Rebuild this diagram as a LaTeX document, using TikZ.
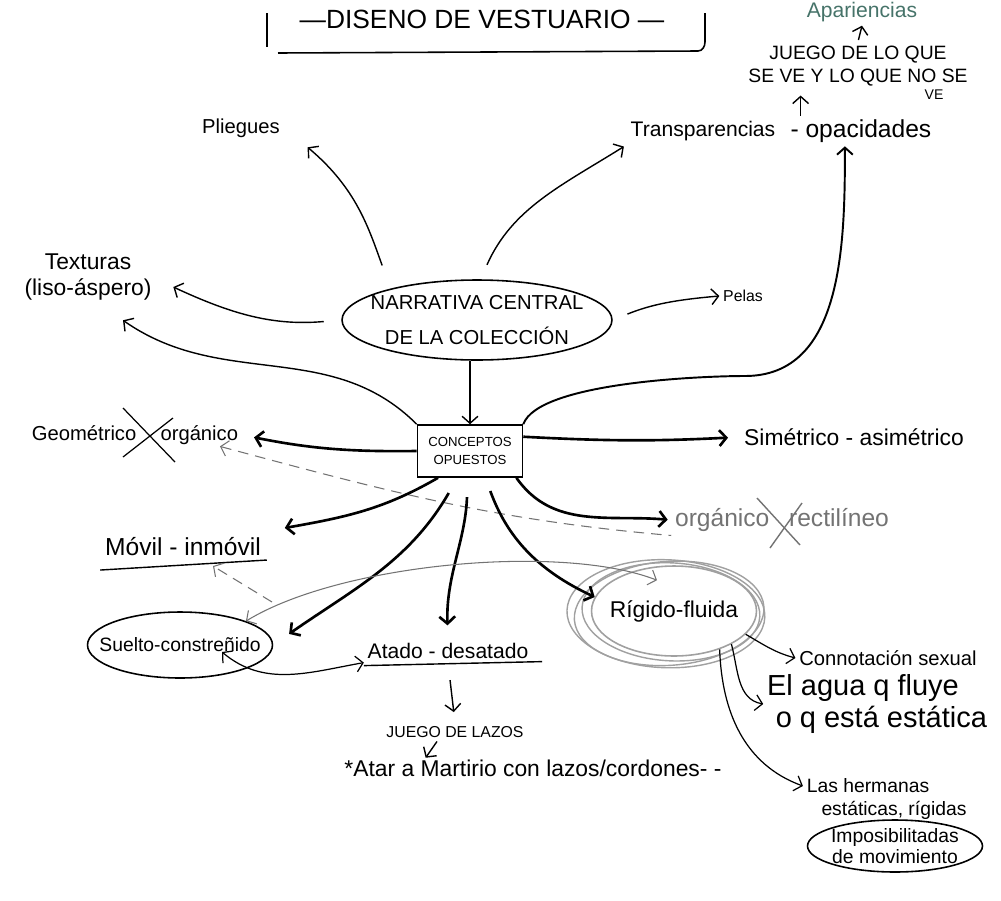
\documentclass[tikz,border=0pt]{standalone}
\usepackage{fontspec}
\setmainfont{Liberation Sans}
\usepackage{tikz}
\usetikzlibrary{shapes.geometric, arrows.meta, positioning, calc}

\definecolor{graphite}{RGB}{115,115,115}
\definecolor{paleink}{RGB}{160,160,160}
\definecolor{tealink}{RGB}{70,115,105}

\begin{document}
\begin{tikzpicture}[
    x = 0.02cm, y = -0.02cm,
    >={Straight Barb[length=4pt, width=9pt]},
    lbl/.style = {inner sep=2pt, align=center},
    oval/.style = {ellipse, draw, line width=0.9pt, align=center, inner xsep=-20pt, inner ysep=-4pt},
    box/.style = {rectangle, draw, line width=0.9pt, align=center, minimum width=2.1cm, minimum height=1.04cm, inner sep=2pt, font=\fontsize{7.5}{10}\selectfont},
    arrow/.style = {draw, ->, line width=0.8pt},
    bold/.style = {arrow, line width=1.5pt},
    pencil/.style = {draw=graphite, line width=0.6pt},
    dashline/.style = {pencil, dash pattern=on 6pt off 4pt},
    ring/.style = {draw=paleink, line width=0.8pt}
]

\useasboundingbox (0,0) rectangle (1001,900);

% Title
\node (title) at (482,19) [lbl, font=\fontsize{15}{16}\selectfont] {—DISENO DE VESTUARIO —};
\draw [line width=0.9pt] (267,13) -- (267,47);
\draw [line width=0.9pt] (278,53) -- (698,51) to[out=0, in=-90] (705,42) -- (705,13);

% Top right
\node (apar) at (862,12) [lbl, text=tealink, font=\fontsize{12}{14}\selectfont] {Apariencias};
\node (juego) at (858,66) [lbl, font=\fontsize{11}{13.5}\selectfont] {JUEGO DE LO QUE\\SE VE Y LO QUE NO SE};
\node (ve) at (934,95) [lbl, font=\fontsize{8}{9}\selectfont] {VE};
\node (transp) at (703,131) [lbl, font=\fontsize{12}{14}\selectfont] {Transparencias};
\node (opac) [lbl, right=0.15cm of transp, font=\fontsize{14}{16}\selectfont] {- opacidades};

% Top left
\node (pliegues) at (241,128) [lbl, font=\fontsize{11.5}{13}\selectfont] {Pliegues};
\node (text) at (88,277) [lbl, font=\fontsize{13}{15}\selectfont] {Texturas\\(liso-áspero)};

% Centre
\node (narr) at (477,320) [oval, minimum width=5.4cm, minimum height=1.6cm, font=\fontsize{11.5}{20}\selectfont] {NARRATIVA CENTRAL\\DE LA COLECCIÓN};
\node (pelas) at (743,296) [lbl, font=\fontsize{9}{10}\selectfont] {Pelas};
\node (conc) at (470,451) [box] {CONCEPTOS\\OPUESTOS};

% Opposites
\node (geom) at (135,435) [lbl, font=\fontsize{11.5}{13}\selectfont] {Geométrico\hspace{1.2em}orgánico};
\node (sime) at (854,437) [lbl, font=\fontsize{13}{15}\selectfont] {Simétrico - asimétrico};
\node (organ) at (782,520) [lbl, text=graphite, font=\fontsize{14}{16}\selectfont] {orgánico\hspace{0.8em}rectilíneo};
\node (movil) at (183,547) [lbl, font=\fontsize{14}{16}\selectfont] {Móvil - inmóvil};
\node (suelto) at (180,645) [oval, minimum width=3.7cm, minimum height=1.32cm, font=\fontsize{11}{13}\selectfont] {Suelto-constreñido};
\node (atado) at (448,651) [lbl, font=\fontsize{12}{14}\selectfont] {Atado - desatado};
\node (lazos) at (455,732) [lbl, font=\fontsize{9}{11}\selectfont] {JUEGO DE LAZOS};
\node (atar) at (533,768) [lbl, font=\fontsize{13}{15}\selectfont] {*Atar a Martirio con lazos/cordones- -};
\node (rigido) at (674,611) [oval, draw=paleink, minimum width=3.3cm, minimum height=1.8cm, font=\fontsize{13}{15}\selectfont] {Rígido-fluida};
\node (connot) at (888,658) [lbl, font=\fontsize{11.5}{13}\selectfont] {Connotación sexual};
\node (agua) at (877,704) [lbl, align=left, font=\fontsize{16.5}{18}\selectfont] {El agua q fluye\\\hspace{0.3em}o q está estática};
\node (herm) at (868,786) [lbl, font=\fontsize{11}{13}\selectfont] {Las hermanas};
\node (est) at (894,810) [lbl, font=\fontsize{11}{13}\selectfont] {estáticas, rígidas};
\node (impos) at (895,846) [oval, minimum width=3.5cm, minimum height=1.04cm, font=\fontsize{11}{12}\selectfont] {Imposibilitadas\\de movimiento};

% Underlines and crossings
\draw [line width=0.8pt] ($(movil.south west)+(-1,10)$) -- ($(movil.south east)+(2,0)$);
\draw [line width=0.8pt] ($(atado.south west)+(0,3)$) -- ($(atado.south east)+(10,-1)$);
\draw [line width=0.7pt] ($(geom)+(-12,-27)$) -- ($(geom)+(40,27)$);
\draw [line width=0.7pt] ($(geom)+(38,-17)$) -- ($(geom)+(-12,22)$);
\draw [pencil, line width=0.8pt] ($(organ)+(-25,-22)$) -- ($(organ)+(18,25)$);
\draw [pencil, line width=0.8pt] ($(organ)+(20,-17)$) -- ($(organ)+(-12,28)$);

% Scribbled rings round Rigido-fluida
\draw [ring, rotate around={-3:(rigido.center)}] ($(rigido.center)+(-3,1)$) ellipse [x radius=1.78cm, y radius=0.98cm];
\draw [ring, rotate around={4:(rigido.center)}] ($(rigido.center)+(-5,2)$) ellipse [x radius=1.9cm, y radius=1.04cm];
\draw [ring, rotate around={-2:(rigido.center)}] ($(rigido.center)+(-8,3)$) ellipse [x radius=1.98cm, y radius=1.08cm];

% Arrows from the narrative
\draw [arrow, shorten <=14pt] (narr.160) to[out=110, in=-40] ($(pliegues.south east)+(24,6)$);
\draw [arrow, shorten <=9pt, shorten >=2pt] (narr.85) to[out=66, in=-148] (transp.south west);
\draw [arrow, shorten <=10pt] (narr.west) to[out=185, in=-25] ($(text.east)+(18,10)$);
\draw [arrow, shorten <=9pt] (narr.east) to[out=22, in=185] (pelas.west);
\draw [arrow] (narr.south -| conc.north) -- (conc.north);

% Arrows from the opposed concepts
\coordinate (knee) at (745,376);
\draw [arrow] (conc.north west) to[out=135, in=-35] ($(text.south)+(35,16)$);
\draw [arrow, line width=1.1pt] (conc.north east) to[out=70, in=180, looseness=0.5] (knee) to[out=0, in=-90] ($(opac.south)+(-16,0)$);
\draw [bold, shorten >=7pt] (conc.west) to[bend left=6] (geom.east);
\draw [dashline, <-] ($(geom.south east)+(-22,-2)$) to[out=-15, in=175] (organ.south west);
\draw [bold] (conc.-140) to[out=-150, in=10] ($(movil.north east)+(20,-6)$);
\draw [bold, shorten <=10pt, shorten >=11pt] (conc.-115) to[out=-120, in=35] (suelto.east);
\draw [bold, shorten <=11pt, shorten >=8pt] (conc.-95) to[out=-92, in=92] (atado.north);
\draw [bold, shorten <=8pt] (conc.-60) to[out=-70, in=155] (rigido.170);
\draw [bold, shorten >=7pt] (conc.15) to[bend right=3] (sime.west);
\draw [bold, shorten >=2pt] (conc.-30) to[out=-55, in=175] (organ.west);

% Upper chain
\coordinate (tup) at ([xshift=0.28cm]opac.north west);
\draw [arrow, shorten >=3pt] (tup) -- (tup |- juego.south);
\draw [arrow, shorten <=1pt] (juego.north) -- (apar.south);

% Pencil links
\coordinate (mv) at (272,602);
\draw [pencil, <->] (suelto.north east) .. controls +(95,-58) and +(-95,-37) .. ($(rigido.north)+(-17,15)$);
\draw [dashline, ->] (mv) -- ($(movil.south)+(30,6)$);
\draw [arrow, <->, line width=0.7pt] ($(suelto.center)+(42,7)$) to[out=-40, in=190] (atado.south west);

% Below Atado
\draw [arrow, shorten <=10pt, shorten >=6pt] (atado.south) -- (lazos.north);
\draw [arrow] ($(lazos.south)+(-18,0)$) -- ($(atar.north west)+(85,2)$);

% From Rigido-fluida
\draw [arrow, line width=0.7pt] (rigido.-18) to[out=-30, in=165] (connot.west);
\draw [arrow, line width=0.7pt] (rigido.-30) to[out=-75, in=170] (agua.west);
\draw [arrow, line width=0.7pt] (rigido.-40) to[out=-88, in=160] (herm.west);

\end{tikzpicture}
\end{document}
